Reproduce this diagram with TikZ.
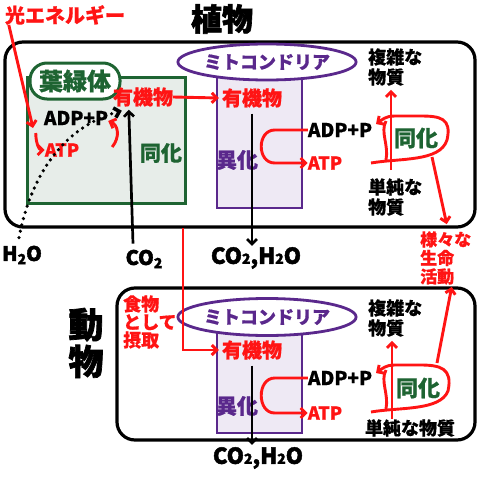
\documentclass[tikz,border=0pt]{standalone}
\usepackage{fontspec}
\setmainfont{Noto Sans CJK JP}[FakeBold=0.8]
\newfontfamily\heavyjp{Noto Sans CJK JP}[FakeBold=2]
\usetikzlibrary{arrows.meta,positioning,shapes.geometric}

\definecolor{myred}{RGB}{255,20,20}
\definecolor{chlgreen}{RGB}{30,100,50}
\definecolor{mitpurple}{RGB}{90,40,140}
\definecolor{chlfill}{RGB}{231,237,233}
\definecolor{mitfill}{RGB}{238,233,244}

\newcommand{\lowtwo}[1][-0.3ex]{\raisebox{#1}{\fontsize{14}{14}\selectfont 2}}

\begin{document}
\begin{tikzpicture}[
  x=1pt, y=-1pt,
  lbl/.style={inner sep=0pt, font=\bfseries\fontsize{19}{20}\selectfont},
  redlbl/.style={lbl, text=myred},
  big/.style={inner sep=0pt, font=\heavyjp\bfseries\fontsize{#1}{#1}\selectfont},
  organism/.style={draw, line width=3.2pt, rounded corners=18pt},
  chloro/.style={draw=chlgreen, fill=chlfill, line width=3pt},
  mito/.style={draw=mitpurple, fill=mitfill, line width=2.8pt},
  mitolbl/.style={ellipse, draw=mitpurple, fill=white, line width=2.8pt, inner sep=0pt,
    minimum width=147pt, minimum height=36pt, text=mitpurple, font=\bfseries\fontsize{18}{18}\selectfont},
  redarr/.style={draw=myred, line width=2.9pt, -{Straight Barb[length=5pt,width=10pt]}},
  redline/.style={draw=myred, line width=2.9pt},
  blkarr/.style={draw=black, line width=2.7pt, -{Straight Barb[length=5pt,width=10pt]}},
  dotarr/.style={draw=black, line width=3.6pt, line cap=round, dash pattern=on 0pt off 6.5pt,
    -{Straight Barb[length=5pt,width=10pt]}}
]
\useasboundingbox (0,0) rectangle (479,479);

% organisms
\node[organism, minimum width=470pt, minimum height=185pt] (plant) at (240,134.5) {};
\node[organism, minimum width=358pt, minimum height=152pt] (animal) at (296,364) {};
\node[big=31] (plantttl) at (222,19) {植物};
\node[big=35, align=center] (animalttl) at (86,343) {動\\[2pt]物};

% chloroplast
\node[chloro, minimum width=158pt, minimum height=126pt] (chl) at (106,140) {};
\node[draw=chlgreen, fill=white, line width=3pt, rounded corners=17pt, minimum width=90pt,
  minimum height=36pt, inner sep=0pt, text=chlgreen, font=\bfseries\fontsize{24}{24}\selectfont] (chllbl) at (75,81) {葉緑体};
\node[redlbl, font=\bfseries\fontsize{20}{20}\selectfont] (light) at (65,15) {光エネルギー};
\node[lbl] (adpc) at (76,118) {ADP+P};
\node[redlbl, font=\bfseries\fontsize{18}{18}\selectfont] (atpc) at (62,150) {ATP};
\node[lbl, text=chlgreen, font=\bfseries\fontsize{21}{21}\selectfont] (dokac) at (161,153) {同化};
\node[redlbl, font=\bfseries\fontsize{20}{20}\selectfont] (orgc) at (143,97) {有機物};
\node[big=20] (h2o) at (22,255) {H\lowtwo O};
\node[big=20] (co2a) at (144,259) {CO\lowtwo};

% top mitochondrion
\node[mito, minimum width=85pt, minimum height=138pt] (mit1) at (259.5,139) {};
\node[mitolbl] (mitlbl1) at (267,62) {ミトコンドリア};
\node[redlbl, font=\bfseries\fontsize{20}{20}\selectfont] (orgm1) at (252,98) {有機物};
\node[lbl, text=mitpurple, font=\bfseries\fontsize{21}{21}\selectfont] (ika1) at (237,160) {異化};
\node[lbl] (adpm1) at (340,130) {ADP+P};
\node[redlbl, font=\bfseries\fontsize{18}{18}\selectfont] (atpm1) at (325,163) {ATP};
\node[big=22] (co2h2o1) at (256,258) {CO\lowtwo[0pt],H\lowtwo[0pt]O};
\node[lbl, font=\bfseries\fontsize{18}{20}\selectfont, align=left, anchor=west] (cplx1) at (368,67) {複雑な\\物質};
\node[lbl, font=\bfseries\fontsize{18}{20}\selectfont, align=left, anchor=west] (smpl1) at (368,197) {単純な\\物質};
\node[lbl, text=chlgreen, font=\bfseries\fontsize{22}{22}\selectfont] (doka1) at (416,138) {同化};
\node[redlbl, font=\bfseries\fontsize{17}{18.5}\selectfont, align=left, anchor=west] (lives) at (420,258) {様々な\\生命\\活動};

% bottom mitochondrion
\node[mito, minimum width=85pt, minimum height=113pt] (mit2) at (259.5,376.5) {};
\node[mitolbl, minimum height=37pt] (mitlbl2) at (267,317) {ミトコンドリア};
\node[redlbl, font=\bfseries\fontsize{20}{20}\selectfont] (orgm2) at (252,350) {有機物};
\node[lbl, text=mitpurple, font=\bfseries\fontsize{21}{21}\selectfont] (ika2) at (237,406) {異化};
\node[lbl] (adpm2) at (340,378) {ADP+P};
\node[redlbl, font=\bfseries\fontsize{18}{18}\selectfont] (atpm2) at (325,413) {ATP};
\node[big=22] (co2h2o2) at (258,458) {CO\lowtwo[0pt],H\lowtwo[0pt]O};
\node[lbl, font=\bfseries\fontsize{18}{20}\selectfont, align=left, anchor=west] (cplx2) at (368,318) {複雑な\\物質};
\node[lbl, font=\bfseries\fontsize{18}{18}\selectfont] (smpl2) at (410,428) {単純な物質};
\node[lbl, text=chlgreen, font=\bfseries\fontsize{22}{22}\selectfont] (doka2) at (418,388) {同化};
\node[redlbl, font=\bfseries\fontsize{18}{18}\selectfont, align=left, anchor=west] (food) at (123,322) {食物\\として\\摂取};

% free ends
\coordinate (lightend) at (33,128);
\coordinate (feed) at (183,228);
\coordinate (loop1) at (371,163);
\coordinate (loop2) at (371,412);
\coordinate (up1) at (391,170);
\coordinate (up2) at (392,419);
\coordinate (act1) at (432,157);
\coordinate (act2) at (437,363);

% chloroplast arrows
\draw[redarr] ([xshift=4pt]light.south west) -- (lightend);
\draw[redarr] ([xshift=-8pt,yshift=-15pt]adpc.west) .. controls +(0,9) and +(-6,0) .. (atpc.west);
\draw[redarr] ([xshift=4pt,yshift=-29pt]adpc.east) .. controls +(8,-10) and +(10,4) .. ([yshift=-3pt]adpc.east);
\draw[dotarr] ([xshift=-3pt,yshift=8pt]h2o.north) .. controls (30,180) and (60,128) .. ([xshift=9pt,yshift=-4pt]orgc.south west);
\draw[blkarr] (co2a.north -| 133,0) ++(0,-6) -- ([xshift=16pt,yshift=-3pt]orgc.south west);
\draw[redarr] (orgc.east) -- ([xshift=-3pt]orgm1.west);

% top mitochondrion arrows
\draw[redarr] (adpm1.west) -- ++(-33,0) .. controls +(-18,0) and +(-18,0) .. ([xshift=-33pt]atpm1.west) -- (atpm1.west);
\draw[blkarr] ([yshift=-6pt]orgm1.south) -- ([yshift=1pt]orgm1.south |- co2h2o1.north);
\draw[redarr] (up1) -- ([yshift=-4pt]cplx1.south -| up1);
\draw[redarr] (loop1) .. controls (400,158) and (440,162) .. (447,140)
  .. controls (452,118) and (440,116) .. (420,116) -- (395,116)
  .. controls (385,116) and (382,120) .. (376,124);
\draw[redline] (386,160) .. controls (389,145) and (380,132) .. (386,121);
\draw[redarr] (act1) -- ([xshift=1pt,yshift=7pt]lives.north);

% bottom mitochondrion arrows
\draw[redarr] (feed) |- ([xshift=-3pt]orgm2.west);
\draw[redarr] (adpm2.west) -- ++(-33,0) .. controls +(-18,0) and +(-18,0) .. ([xshift=-33pt]atpm2.west) -- (atpm2.west);
\draw[blkarr] ([yshift=-6pt]orgm2.south) -- ([yshift=2pt]orgm2.south |- co2h2o2.north);
\draw[redarr] (up2) -- ([yshift=-4pt]cplx2.south -| up2);
\draw[redarr] (loop2) .. controls (400,407) and (440,411) .. (448,391)
  .. controls (453,368) and (440,365) .. (420,365) -- (395,365)
  .. controls (385,365) and (382,369) .. (376,373);
\draw[redline] (386,409) .. controls (389,394) and (380,381) .. (386,370);
\draw[redarr] (act2) -- ([xshift=6pt,yshift=-2pt]lives.south);
\end{tikzpicture}
\end{document}
